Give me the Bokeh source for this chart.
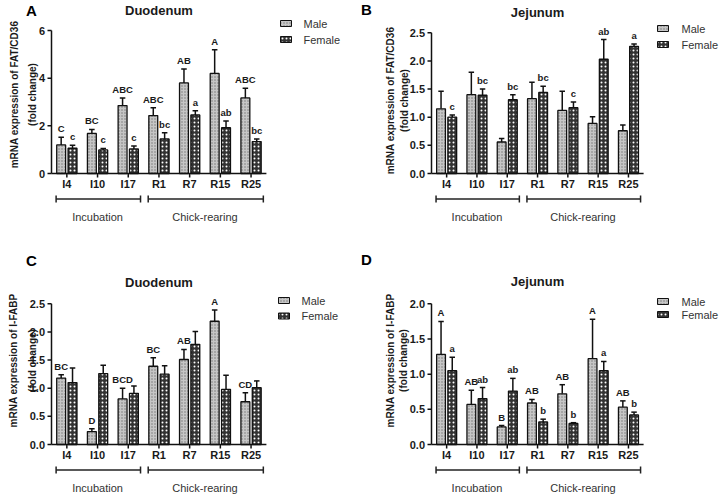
import math
from bokeh.plotting import figure
from bokeh.models import Range1d, ColumnDataSource
from bokeh.layouts import row, column
from bokeh.embed import file_html
from bokeh.resources import INLINE
from bokeh.core.properties import value

# ---------------- data ----------------
stages = ["I4", "I10", "I17", "R1", "R7", "R15", "R25"]
phases = ["Incubation", "Chick-rearing"]
phase_sizes = [3, 4]
sexes = ["Male", "Female"]

# A: Duodenum FAT/CD36
cd36_duo_male = [1.20, 1.68, 2.85, 2.43, 3.80, 4.20, 3.17]
cd36_duo_male_sem = [0.32, 0.17, 0.32, 0.33, 0.58, 0.99, 0.41]
cd36_duo_female = [1.06, 0.99, 1.03, 1.45, 2.46, 1.92, 1.34]
cd36_duo_female_sem = [0.13, 0.06, 0.12, 0.26, 0.17, 0.28, 0.11]
cd36_duo_male_sig = ["C", "BC", "ABC", "ABC", "AB", "A", "ABC"]
cd36_duo_female_sig = ["c", "c", "c", "bc", "a", "ab", "bc"]

# B: Jejunum FAT/CD36
cd36_jej_male = [1.15, 1.40, 0.56, 1.33, 1.12, 0.89, 0.76]
cd36_jej_male_sem = [0.31, 0.40, 0.06, 0.29, 0.34, 0.12, 0.10]
cd36_jej_female = [1.00, 1.39, 1.31, 1.44, 1.17, 2.03, 2.26]
cd36_jej_female_sem = [0.04, 0.11, 0.09, 0.11, 0.10, 0.35, 0.04]
cd36_jej_male_sig = ["", "", "", "", "", "", ""]
cd36_jej_female_sig = ["c", "bc", "bc", "bc", "c", "ab", "a"]

# C: Duodenum I-FABP
ifabp_duo_male = [1.18, 0.23, 0.81, 1.39, 1.51, 2.19, 0.76]
ifabp_duo_male_sem = [0.06, 0.05, 0.19, 0.15, 0.18, 0.20, 0.16]
ifabp_duo_female = [1.10, 1.26, 0.91, 1.25, 1.78, 0.98, 1.01]
ifabp_duo_female_sem = [0.26, 0.15, 0.13, 0.15, 0.23, 0.25, 0.12]
ifabp_duo_male_sig = ["BC", "D", "BCD", "BC", "AB", "A", "CD"]
ifabp_duo_female_sig = ["", "", "", "", "", "", ""]

# D: Jejunum I-FABP
ifabp_jej_male = [1.28, 0.57, 0.25, 0.59, 0.72, 1.22, 0.53]
ifabp_jej_male_sem = [0.47, 0.20, 0.02, 0.05, 0.13, 0.56, 0.09]
ifabp_jej_female = [1.05, 0.65, 0.76, 0.32, 0.30, 1.05, 0.42]
ifabp_jej_female_sem = [0.19, 0.16, 0.18, 0.04, 0.01, 0.13, 0.04]
ifabp_jej_male_sig = ["A", "AB", "B", "AB", "AB", "A", "AB"]
ifabp_jej_female_sig = ["a", "ab", "ab", "b", "b", "a", "b"]

ticks_cd36_duo = [0, 2, 4, 6]
ticklabels_cd36_duo = ["0", "2", "4", "6"]
ticks_cd36_jej = [0, 0.5, 1.0, 1.5, 2.0, 2.5]
ticklabels_cd36_jej = ["0.0", "0.5", "1.0", "1.5", "2.0", "2.5"]
ticks_ifabp_duo = [0, 0.5, 1.0, 1.5, 2.0, 2.5]
ticklabels_ifabp_duo = ["0.0", "0.5", "1.0", "1.5", "2.0", "2.5"]
ticks_ifabp_jej = [0, 0.5, 1.0, 1.5, 2.0]
ticklabels_ifabp_jej = ["0.0", "0.5", "1.0", "1.5", "2.0"]

FONT = "Liberation Sans"
TXT = "#1a1a1a"
INK = "#111111"

MALE_STYLE = dict(fill_color="#c6c6c6", hatch_pattern="dot", hatch_color="#747474",
                  hatch_scale=3, line_color=INK, line_width=1.3)
FEMALE_STYLE = dict(fill_color="#333333", hatch_pattern="dot", hatch_color="white",
                    hatch_scale=4, hatch_weight=3.4, line_color=INK, line_width=1.3)


def panel(letter, title, ylab, ticks, ticklabels, male, male_sem, female, female_sem,
          male_sig, female_sig, g):
    xs, ys = g["xs"], g["ys"]
    ax_px = g["page_left"] + g["L"]
    z = g["zero"]

    def X(px):
        return (px - ax_px) / xs

    def Y(py):
        return (z - py) / ys

    W, H = g["width"], g["height"]
    p = figure(width=W, height=H,
               x_range=Range1d(X(g["page_left"]), X(g["page_left"] + W)),
               y_range=Range1d(Y(g["page_top"] + H), Y(g["page_top"])),
               min_border_left=0, min_border_right=0, min_border_top=0,
               min_border_bottom=0, toolbar_location=None, output_backend="svg",
               x_axis_location=None, y_axis_location=None)
    p.outline_line_color = None
    p.grid.visible = False
    p.background_fill_color = "white"
    p.border_fill_color = "white"

    def txt(x, y, t, size, bold=True, align="center", baseline="middle", angle=0, color=TXT):
        p.text(x=x, y=y, text=t, angle=angle, text_align=align, text_baseline=baseline,
               text_font=value(FONT), text_font_style="bold" if bold else "normal",
               text_font_size=size, text_color=color)

    n = len(stages)

    # ---- y axis (from tick lists) ----
    nt = len(ticks)
    p.segment(x0=[0], y0=[ticks[0]], x1=[0], y1=[ticks[-1]], line_color=INK, line_width=1.5)
    p.segment(x0=[0] * nt, y0=ticks, x1=[-4 / xs] * nt, y1=ticks, line_color=INK, line_width=1.5)
    txt([-6.5 / xs] * nt, ticks, ticklabels, "11px", align="right")

    # ---- bars ----
    off = 0.185
    bw = 0.29
    cap = 0.09
    xm = [i + 0.5 - off for i in range(n)]
    xf = [i + 0.5 + off for i in range(n)]
    mhi = [m + e for m, e in zip(male, male_sem)]
    fhi = [m + e for m, e in zip(female, female_sem)]
    src = ColumnDataSource(dict(
        xm=xm, xf=xf, male=male, female=female, mhi=mhi, fhi=fhi,
        xm0=[x - cap for x in xm], xm1=[x + cap for x in xm],
        xf0=[x - cap for x in xf], xf1=[x + cap for x in xf],
    ))

    for xc, x0, x1, base, hi in (("xm", "xm0", "xm1", "male", "mhi"),
                                 ("xf", "xf0", "xf1", "female", "fhi")):
        p.segment(x0=xc, y0=base, x1=xc, y1=hi, source=src, line_color=INK, line_width=1.5)
        p.segment(x0=x0, y0=hi, x1=x1, y1=hi, source=src, line_color=INK, line_width=1.5)

    p.vbar(x="xm", top="male", bottom=0, width=bw, source=src, **MALE_STYLE)
    p.vbar(x="xf", top="female", bottom=0, width=bw, source=src, **FEMALE_STYLE)

    # significance letters (skip empty entries)
    for xpos, hi, sig in ((xm, mhi, male_sig), (xf, fhi, female_sig)):
        keep = [i for i in range(n) if sig[i]]
        if keep:
            p.text(x=[xpos[i] for i in keep], y=[hi[i] + 3 / ys for i in keep],
                   text=[sig[i] for i in keep], text_align="center",
                   text_baseline="bottom", text_font=value(FONT),
                   text_font_style="bold", text_font_size="9.5px", text_color=TXT)

    # ---- x baseline, ticks, category labels ----
    p.segment(x0=[0], y0=[0], x1=[n], y1=[0], line_color=INK, line_width=1.5)
    cx = [i + 0.5 for i in range(n)]
    p.segment(x0=cx, y0=[0] * n, x1=cx, y1=[-4 / ys] * n, line_color=INK, line_width=1.5)
    txt(cx, [-10 / ys] * n, stages, "11px")

    # ---- phase brackets ----
    start = 0
    by = -25.5 / ys
    ch = 3.5 / ys
    for name, size in zip(phases, phase_sizes):
        a, b = start + 0.15, start + size - 0.1
        p.segment(x0=[a, a, b], y0=[by, by - ch, by - ch], x1=[b, a, b], y1=[by, by + ch, by + ch],
                  line_color="#222222", line_width=1.5)
        txt([start + size / 2], [-43 / ys], [name], "11px", bold=False, color="#333333")
        start += size

    # ---- legend ----
    lx = X(ax_px + g["leg_sw"])
    tx = X(ax_px + g["leg_tx"])
    for sex, style, ry in zip(sexes, (MALE_STYLE, FEMALE_STYLE), g["leg_rows"]):
        st = dict(style)
        st["line_width"] = 1
        p.rect(x=[lx], y=[Y(ry)], width=11, height=6, width_units="screen",
               height_units="screen", **st)
        txt([tx], [Y(ry)], [sex], "11px", bold=False, align="left", color="#333333")

    # ---- title, panel letter, y label ----
    txt([n / 2], [Y(g["title_y"])], [title], "13px")
    txt([X(g["letter"][0])], [Y(g["letter"][1])], [letter], "15px", color="#000000")
    for line, lxp in zip(ylab, g["ylab_x"]):
        txt([X(lxp)], [Y(g["ylab_y"])], [line], "10px", angle=math.pi / 2)
    return p


geoA = dict(width=359, height=248, L=51, page_left=0, page_top=0, xs=30.7, zero=173, ys=23.83,
            title_y=10, letter=(31, 10), ylab_x=(14, 32), ylab_y=94, leg_sw=234.5, leg_tx=252,
            leg_rows=(23, 39))
geoB = dict(width=360, height=248, L=72, page_left=359, page_top=0, xs=30.3, zero=173, ys=56.28,
            title_y=12, letter=(366, 9), ylab_x=(390, 404), ylab_y=100, leg_sw=231.5, leg_tx=250,
            leg_rows=(28, 44))
geoC = dict(width=359, height=247, L=51, page_left=0, page_top=248, xs=30.7, zero=444, ys=56.28,
            title_y=282, letter=(31, 260), ylab_x=(13, 32), ylab_y=360, leg_sw=232.5, leg_tx=250,
            leg_rows=(300, 315.5))
geoD = dict(width=360, height=247, L=72, page_left=359, page_top=248, xs=30.3, zero=444, ys=70.35,
            title_y=280.5, letter=(366, 259), ylab_x=(390, 403), ylab_y=360, leg_sw=231.5,
            leg_tx=250, leg_rows=(301, 314))

ylab_cd36 = ["mRNA expression of FAT/CD36", "(fold change)"]
ylab_ifabp = ["mRNA expression of I-FABP", "(fold change)"]

pA = panel("A", "Duodenum", ylab_cd36, ticks_cd36_duo, ticklabels_cd36_duo,
           cd36_duo_male, cd36_duo_male_sem, cd36_duo_female, cd36_duo_female_sem,
           cd36_duo_male_sig, cd36_duo_female_sig, geoA)
pB = panel("B", "Jejunum", ylab_cd36, ticks_cd36_jej, ticklabels_cd36_jej,
           cd36_jej_male, cd36_jej_male_sem, cd36_jej_female, cd36_jej_female_sem,
           cd36_jej_male_sig, cd36_jej_female_sig, geoB)
pC = panel("C", "Duodenum", ylab_ifabp, ticks_ifabp_duo, ticklabels_ifabp_duo,
           ifabp_duo_male, ifabp_duo_male_sem, ifabp_duo_female, ifabp_duo_female_sem,
           ifabp_duo_male_sig, ifabp_duo_female_sig, geoC)
pD = panel("D", "Jejunum", ylab_ifabp, ticks_ifabp_jej, ticklabels_ifabp_jej,
           ifabp_jej_male, ifabp_jej_male_sem, ifabp_jej_female, ifabp_jej_female_sem,
           ifabp_jej_male_sig, ifabp_jej_female_sig, geoD)

layout = column(row(pA, pB), row(pC, pD))
open("out.html", "w").write(file_html(layout, INLINE))
